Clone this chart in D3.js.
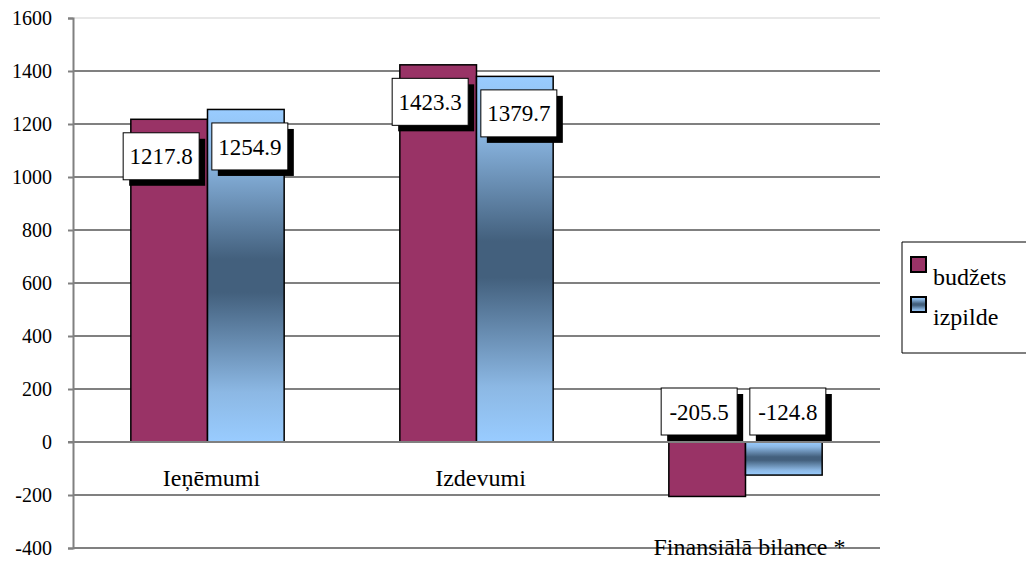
<!DOCTYPE html>
<html>
<head>
<meta charset="utf-8">
<script src="https://cdn.jsdelivr.net/npm/d3@7"></script>
<style>
  body { margin: 0; background: #fff; }
  svg text { font-family: "Liberation Serif", "Times New Roman", "DejaVu Serif", serif !important; fill: #000; }
</style>
</head>
<body>
<svg id="chart" width="1028" height="569"></svg>
<script>
// Chart data
const categories = ['Ieņēmumi', 'Izdevumi', 'Finansiālā bilance *'];
const seriesNames = ['budžets', 'izpilde'];
const budzets = [1217.8, 1423.3, -205.5];
const izpilde = [1254.9, 1379.7, -124.8];
const yTicks = [-400, -200, 0, 200, 400, 600, 800, 1000, 1200, 1400, 1600];

const values = { 'budžets': budzets, 'izpilde': izpilde };

const plotLeft = 73;
const plotRight = 880;
const plotTop = 18;
const plotBottom = 548;
const serif = '"Liberation Serif", "Times New Roman", serif';

const svg = d3.select('#chart');

// gradient for the izpilde bars
const defs = svg.append('defs');
const grad = defs
  .append('linearGradient')
  .attr('id', 'blueGrad')
  .attr('x1', 0)
  .attr('y1', 0)
  .attr('x2', 0)
  .attr('y2', 1);
grad.append('stop').attr('offset', '0%').attr('stop-color', '#99ccff');
grad.append('stop').attr('offset', '15%').attr('stop-color', '#8cb8e4');
grad.append('stop').attr('offset', '45%').attr('stop-color', '#43607d');
grad.append('stop').attr('offset', '55%').attr('stop-color', '#43607d');
grad.append('stop').attr('offset', '85%').attr('stop-color', '#8cb8e4');
grad.append('stop').attr('offset', '100%').attr('stop-color', '#99ccff');

const color = d3.scaleOrdinal().domain(seriesNames).range(['#993366', 'url(#blueGrad)']);

const yScale = d3.scaleLinear().domain([-400, 1600]).range([plotBottom, plotTop]);

const xScale = d3
  .scaleBand()
  .domain(categories)
  .range([plotLeft, plotRight])
  .paddingInner(0.43)
  .paddingOuter(0.215);

const xSub = d3
  .scaleBand()
  .domain(seriesNames)
  .range([0, xScale.bandwidth()]);

// gridlines
svg
  .append('g')
  .selectAll('line')
  .data(yTicks)
  .join('line')
  .attr('x1', plotLeft)
  .attr('x2', plotRight)
  .attr('y1', d => yScale(d))
  .attr('y2', d => yScale(d))
  .attr('stroke', d => (d === 1600 ? '#e8e8e8' : '#808080'))
  .attr('stroke-width', 2);

// y axis
const yAxis = svg
  .append('g')
  .attr('transform', `translate(${plotLeft},0)`)
  .call(
    d3.axisLeft(yScale)
      .tickValues(yTicks)
      .tickFormat(d => String(d))
      .tickSize(5)
      .tickPadding(16)
  );
yAxis.attr('font-family', null);
yAxis.select('.domain').attr('stroke', '#808080').attr('stroke-width', 2);
yAxis.selectAll('.tick line').attr('stroke', '#808080').attr('stroke-width', 2);
yAxis
  .selectAll('.tick text')
  .style('font-family', serif)
  .attr('font-size', 20)
  .attr('dy', '0.3em');

// rows of data per category
const rows = categories.map((c, i) => ({
  category: c,
  items: seriesNames.map(s => ({ key: s, value: values[s][i], category: c }))
}));

const groups = svg
  .selectAll('.cat')
  .data(rows)
  .join('g')
  .attr('class', 'cat')
  .attr('transform', d => `translate(${xScale(d.category)},0)`);

groups
  .selectAll('rect')
  .data(d => d.items)
  .join('rect')
  .attr('x', d => xSub(d.key))
  .attr('width', xSub.bandwidth())
  .attr('y', d => yScale(Math.max(0, d.value)))
  .attr('height', d => Math.abs(yScale(d.value) - yScale(0)))
  .attr('fill', d => color(d.key))
  .attr('stroke', '#000')
  .attr('stroke-width', 1.5);

// zero line on top of bars
svg
  .append('line')
  .attr('x1', plotLeft - 5)
  .attr('x2', plotRight)
  .attr('y1', yScale(0))
  .attr('y2', yScale(0))
  .attr('stroke', '#808080')
  .attr('stroke-width', 2);

// data labels with shadow boxes
const boxW = 76;
const boxH = 47;
const labelShift = { 'budžets': -8, 'izpilde': 4 };

const labels = groups
  .selectAll('.lbl')
  .data(d => d.items)
  .join('g')
  .attr('class', 'lbl')
  .attr('transform', d => {
    const cx = xSub(d.key) + xSub.bandwidth() / 2 + labelShift[d.key];
    const cy = d.value >= 0 ? yScale(d.value) + 37 : yScale(0) - 7 - boxH / 2;
    return `translate(${cx},${cy})`;
  });

labels
  .append('rect')
  .attr('x', -boxW / 2 + 6)
  .attr('y', -boxH / 2 + 6)
  .attr('width', boxW)
  .attr('height', boxH)
  .attr('fill', '#000');

labels
  .append('rect')
  .attr('x', -boxW / 2)
  .attr('y', -boxH / 2)
  .attr('width', boxW)
  .attr('height', boxH)
  .attr('fill', '#fff')
  .attr('stroke', '#000')
  .attr('stroke-width', 1);

labels
  .append('text')
  .attr('text-anchor', 'middle')
  .attr('dy', '0.35em')
  .attr('font-size', 23)
  .style('font-family', serif)
  .text(d => d.value.toFixed(1));

// category labels
svg
  .append('g')
  .selectAll('text')
  .data(rows)
  .join('text')
  .attr('x', d => xScale(d.category) + xScale.bandwidth() / 2 + 4)
  .attr('y', d => (d3.min(d.items, e => e.value) < 0 ? plotBottom + 7 : yScale(0) + 44))
  .attr('text-anchor', 'middle')
  .attr('font-size', 24)
  .style('font-family', serif)
  .text(d => d.category);

// legend
const legend = svg.append('g').attr('transform', 'translate(902,242)');

legend
  .append('path')
  .attr('d', 'M124,0 H0 V111 H124')
  .attr('fill', 'none')
  .attr('stroke', '#000')
  .attr('stroke-width', 1);

const items = legend
  .selectAll('.item')
  .data(seriesNames)
  .join('g')
  .attr('class', 'item')
  .attr('transform', (d, i) => `translate(9,${15 + i * 40})`);

items
  .append('rect')
  .attr('width', 15)
  .attr('height', 15)
  .attr('fill', d => color(d))
  .attr('stroke', '#000')
  .attr('stroke-width', 2);

items
  .append('text')
  .attr('x', 22)
  .attr('y', 28)
  .attr('font-size', 24)
  .style('font-family', serif)
  .text(d => d);
</script>
</body>
</html>
